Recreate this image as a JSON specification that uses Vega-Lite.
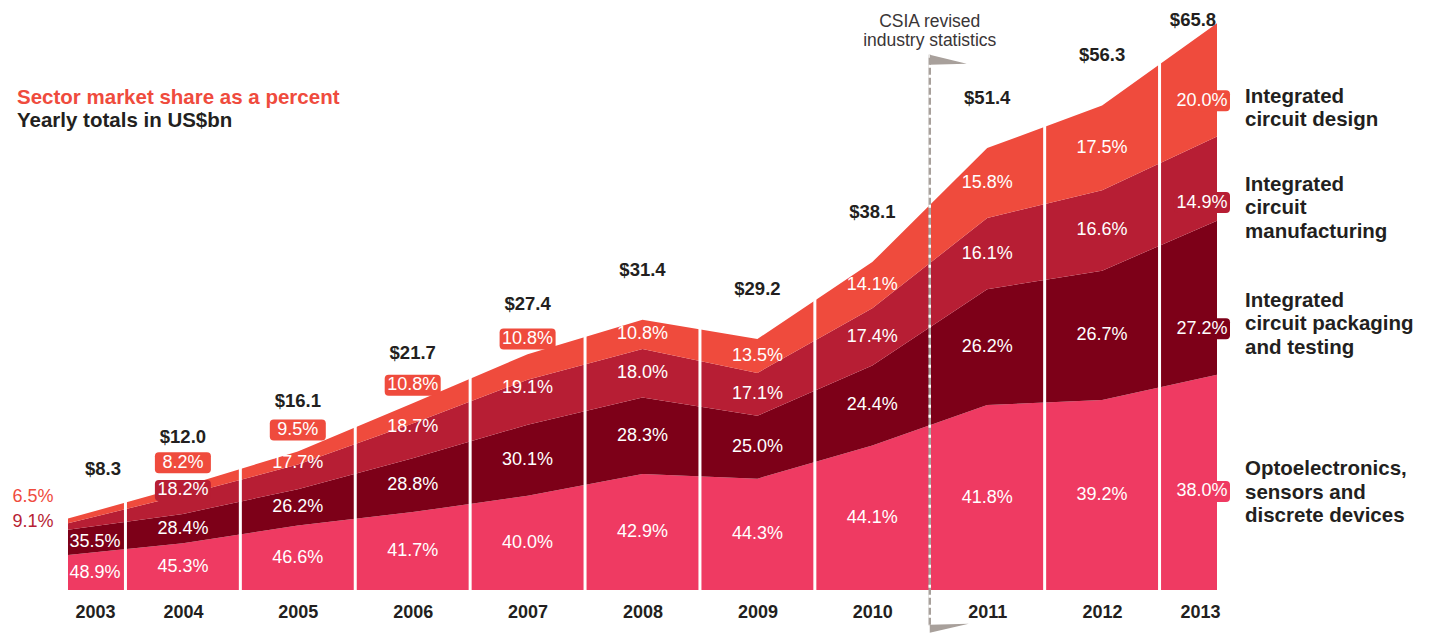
{
  "$schema": "https://vega.github.io/schema/vega-lite/v6.json",
  "width": 1149,
  "height": 568,
  "autosize": {"type": "none"},
  "padding": {"left": 68, "top": 22, "right": 216, "bottom": 43},
  "background": "#ffffff",
  "config": {"view": {"stroke": null}, "font": "Liberation Sans"},
  "title": {
    "text": "Sector market share as a percent",
    "subtitle": "Yearly totals in US$bn",
    "anchor": "start",
    "frame": "group",
    "orient": "top",
    "offset": 0,
    "dx": -51,
    "dy": 121,
    "font": "Liberation Sans",
    "fontSize": 20.5,
    "fontWeight": "bold",
    "color": "#ef4b3d",
    "subtitleFont": "Liberation Sans",
    "subtitleFontSize": 20.5,
    "subtitleFontWeight": "bold",
    "subtitleColor": "#231f20",
    "subtitlePadding": 3
  },
  "datasets": {
    "main": [
      {"year": 2003, "sector": "opto", "rank": 1, "share": 0.489, "value": 4.059},
      {"year": 2003, "sector": "pack", "rank": 2, "share": 0.355, "value": 2.947},
      {"year": 2003, "sector": "manu", "rank": 3, "share": 0.091, "value": 0.755},
      {"year": 2003, "sector": "design", "rank": 4, "share": 0.065, "value": 0.540},
      {"year": 2004, "sector": "opto", "rank": 1, "share": 0.453, "value": 5.436},
      {"year": 2004, "sector": "pack", "rank": 2, "share": 0.284, "value": 3.408},
      {"year": 2004, "sector": "manu", "rank": 3, "share": 0.182, "value": 2.184},
      {"year": 2004, "sector": "design", "rank": 4, "share": 0.082, "value": 0.984},
      {"year": 2005, "sector": "opto", "rank": 1, "share": 0.466, "value": 7.503},
      {"year": 2005, "sector": "pack", "rank": 2, "share": 0.262, "value": 4.218},
      {"year": 2005, "sector": "manu", "rank": 3, "share": 0.177, "value": 2.850},
      {"year": 2005, "sector": "design", "rank": 4, "share": 0.095, "value": 1.530},
      {"year": 2006, "sector": "opto", "rank": 1, "share": 0.417, "value": 9.049},
      {"year": 2006, "sector": "pack", "rank": 2, "share": 0.288, "value": 6.250},
      {"year": 2006, "sector": "manu", "rank": 3, "share": 0.187, "value": 4.058},
      {"year": 2006, "sector": "design", "rank": 4, "share": 0.108, "value": 2.344},
      {"year": 2007, "sector": "opto", "rank": 1, "share": 0.400, "value": 10.960},
      {"year": 2007, "sector": "pack", "rank": 2, "share": 0.301, "value": 8.247},
      {"year": 2007, "sector": "manu", "rank": 3, "share": 0.191, "value": 5.233},
      {"year": 2007, "sector": "design", "rank": 4, "share": 0.108, "value": 2.959},
      {"year": 2008, "sector": "opto", "rank": 1, "share": 0.429, "value": 13.471},
      {"year": 2008, "sector": "pack", "rank": 2, "share": 0.283, "value": 8.886},
      {"year": 2008, "sector": "manu", "rank": 3, "share": 0.180, "value": 5.652},
      {"year": 2008, "sector": "design", "rank": 4, "share": 0.108, "value": 3.391},
      {"year": 2009, "sector": "opto", "rank": 1, "share": 0.443, "value": 12.936},
      {"year": 2009, "sector": "pack", "rank": 2, "share": 0.250, "value": 7.300},
      {"year": 2009, "sector": "manu", "rank": 3, "share": 0.171, "value": 4.993},
      {"year": 2009, "sector": "design", "rank": 4, "share": 0.135, "value": 3.942},
      {"year": 2010, "sector": "opto", "rank": 1, "share": 0.441, "value": 16.802},
      {"year": 2010, "sector": "pack", "rank": 2, "share": 0.244, "value": 9.296},
      {"year": 2010, "sector": "manu", "rank": 3, "share": 0.174, "value": 6.629},
      {"year": 2010, "sector": "design", "rank": 4, "share": 0.141, "value": 5.372},
      {"year": 2011, "sector": "opto", "rank": 1, "share": 0.418, "value": 21.485},
      {"year": 2011, "sector": "pack", "rank": 2, "share": 0.262, "value": 13.467},
      {"year": 2011, "sector": "manu", "rank": 3, "share": 0.161, "value": 8.275},
      {"year": 2011, "sector": "design", "rank": 4, "share": 0.158, "value": 8.121},
      {"year": 2012, "sector": "opto", "rank": 1, "share": 0.392, "value": 22.070},
      {"year": 2012, "sector": "pack", "rank": 2, "share": 0.267, "value": 15.032},
      {"year": 2012, "sector": "manu", "rank": 3, "share": 0.166, "value": 9.346},
      {"year": 2012, "sector": "design", "rank": 4, "share": 0.175, "value": 9.853},
      {"year": 2013, "sector": "opto", "rank": 1, "share": 0.380, "value": 25.004},
      {"year": 2013, "sector": "pack", "rank": 2, "share": 0.272, "value": 17.898},
      {"year": 2013, "sector": "manu", "rank": 3, "share": 0.149, "value": 9.804},
      {"year": 2013, "sector": "design", "rank": 4, "share": 0.200, "value": 13.160}
    ],
    "totals": [
      {"year": 2003, "total": 8.3},
      {"year": 2004, "total": 12.0},
      {"year": 2005, "total": 16.1},
      {"year": 2006, "total": 21.7},
      {"year": 2007, "total": 27.4},
      {"year": 2008, "total": 31.4},
      {"year": 2009, "total": 29.2},
      {"year": 2010, "total": 38.1},
      {"year": 2011, "total": 51.4},
      {"year": 2012, "total": 56.3},
      {"year": 2013, "total": 65.8}
    ],
    "bounds": [
      {"boundary": 2003.5},
      {"boundary": 2004.5},
      {"boundary": 2005.5},
      {"boundary": 2006.5},
      {"boundary": 2007.5},
      {"boundary": 2008.5},
      {"boundary": 2009.5},
      {"boundary": 2011.5},
      {"boundary": 2012.5}
    ],
    "names": [
      {"sector": "design", "name": ["Integrated", "circuit design"]},
      {"sector": "manu", "name": ["Integrated", "circuit", "manufacturing"]},
      {"sector": "pack", "name": ["Integrated", "circuit packaging", "and testing"]},
      {"sector": "opto", "name": ["Optoelectronics,", "sensors and", "discrete devices"]}
    ]
  },
  "data": {"name": "main"},
  "layer": [
    {
      "mark": {"type": "area", "interpolate": "linear"},
      "encoding": {
        "x": {
          "field": "year", "type": "quantitative",
          "scale": {"domain": [2003, 2013], "nice": false, "zero": false},
          "axis": {
            "values": [2003, 2004, 2005, 2006, 2007, 2008, 2009, 2010, 2011, 2012, 2013],
            "format": "d",
            "title": null,
            "domain": false,
            "ticks": false,
            "grid": false,
            "labelFont": "Liberation Sans",
            "labelFontSize": 18,
            "labelFontWeight": "bold",
            "labelColor": "#231f20",
            "labelPadding": 13,
            "labelOverlap": false,
            "labelFlush": false,
            "labelBound": false,
            "labelOffset": {"condition": [{"test": "datum.value == 2003", "value": 27}, {"test": "datum.value == 2013", "value": -17}], "value": 0}
          }
        },
        "y": {"field": "value", "type": "quantitative", "stack": "zero", "scale": {"domain": [0, 66], "nice": false}, "axis": null},
        "color": {
          "field": "sector", "type": "nominal",
          "scale": {"domain": ["opto", "pack", "manu", "design"], "range": ["#ef3a62", "#7d0018", "#b71e34", "#ef4b3d"]},
          "legend": null
        },
        "order": {"field": "rank", "type": "quantitative"}
      }
    },
    {
      "data": {"name": "bounds"},
      "mark": {"type": "rule", "color": "#ffffff", "strokeWidth": 3},
      "encoding": {
        "x": {"field": "boundary", "type": "quantitative"}
      }
    },
    {
      "data": {"values": [{}]},
      "mark": {"type": "rule", "color": "#a8a09b", "strokeWidth": 2.5},
      "encoding": {
        "x": {"datum": 2010.5, "type": "quantitative"},
        "y": {"datum": 62.2, "type": "quantitative", "axis": null},
        "y2": {"datum": -4.1}
      }
    },
    {
      "data": {"values": [{}]},
      "mark": {"type": "rule", "color": "#ffffff", "strokeWidth": 2.5, "strokeDash": [3, 7]},
      "encoding": {
        "x": {"datum": 2010.5, "type": "quantitative"},
        "y": {"datum": 62.2, "type": "quantitative", "axis": null},
        "y2": {"datum": -4.1}
      }
    },
    {
      "mark": {"type": "point", "filled": true, "size": 3136, "strokeWidth": 0},
      "encoding": {
        "x": {"field": "year", "type": "quantitative"},
        "y": {"field": "value", "type": "quantitative", "stack": "zero", "bandPosition": 0.5, "axis": null},
        "color": {"field": "sector", "type": "nominal", "legend": null},
        "order": {"field": "rank", "type": "quantitative"},
        "shape": {
          "condition": [
            {"test": "datum.year == 2013 && datum.sector == 'design'", "value": "M-1.393,0.375L0.321,0.375Q0.464,0.375,0.464,0.518L0.464,0.982Q0.464,1.125,0.321,1.125L-1.393,1.125Q-1.536,1.125,-1.536,0.982L-1.536,0.518Q-1.536,0.375,-1.393,0.375Z"},
            {"test": "datum.year == 2013 && datum.sector == 'manu'", "value": "M-1.393,0.482L0.321,0.482Q0.464,0.482,0.464,0.625L0.464,1.089Q0.464,1.232,0.321,1.232L-1.393,1.232Q-1.536,1.232,-1.536,1.089L-1.536,0.625Q-1.536,0.482,-1.393,0.482Z"},
            {"test": "datum.year == 2013 && datum.sector == 'pack'", "value": "M-1.393,0.732L0.321,0.732Q0.464,0.732,0.464,0.875L0.464,1.339Q0.464,1.482,0.321,1.482L-1.393,1.482Q-1.536,1.482,-1.536,1.339L-1.536,0.875Q-1.536,0.732,-1.393,0.732Z"},
            {"test": "datum.year == 2013 && datum.sector == 'opto'", "value": "M-1.393,-0.054L0.321,-0.054Q0.464,-0.054,0.464,0.089L0.464,0.553Q0.464,0.696,0.321,0.696L-1.393,0.696Q-1.536,0.696,-1.536,0.553L-1.536,0.089Q-1.536,-0.054,-1.393,-0.054Z"},
            {"test": "datum.year >= 2004 && datum.year <= 2007 && datum.sector == 'design'", "value": "M-0.857,-1.375L0.857,-1.375Q1,-1.375,1,-1.232L1,-0.768Q1,-0.625,0.857,-0.625L-0.857,-0.625Q-1,-0.625,-1,-0.768L-1,-1.232Q-1,-1.375,-0.857,-1.375Z"},
            {"test": "datum.year == 2004 && datum.sector == 'manu'", "value": "M-0.857,-0.875L0.857,-0.875Q1,-0.875,1,-0.732L1,-0.268Q1,-0.125,0.857,-0.125L-0.857,-0.125Q-1,-0.125,-1,-0.268L-1,-0.732Q-1,-0.875,-0.857,-0.875Z"}
          ],
          "value": "M-0.857,-0.375L0.857,-0.375Q1,-0.375,1,-0.232L1,0.232Q1,0.375,0.857,0.375L-0.857,0.375Q-1,0.375,-1,0.232L-1,-0.232Q-1,-0.375,-0.857,-0.375Z"
        },
        "opacity": {
          "condition": {"test": "datum.year == 2013 || (datum.year >= 2004 && datum.year <= 2007 && datum.sector == 'design') || (datum.year == 2004 && datum.sector == 'manu')", "value": 1},
          "value": 0
        }
      }
    },
    {
      "mark": {
        "type": "text", "color": "#ffffff", "fontSize": 18, "align": "center", "baseline": "middle",
        "dx": {"expr": "datum.year == 2003 ? 27 : datum.year == 2013 ? -15 : 0"},
        "dy": {"expr": "datum.year == 2013 ? (datum.sector == 'design' ? 21 : datum.sector == 'manu' ? 24 : datum.sector == 'pack' ? 31 : 9) : (datum.year >= 2004 && datum.year <= 2007) ? (datum.sector == 'design' ? -28 : datum.sector == 'manu' ? -14 : 0) : 0"}
      },
      "encoding": {
        "x": {"field": "year", "type": "quantitative"},
        "y": {"field": "value", "type": "quantitative", "stack": "zero", "bandPosition": 0.5, "axis": null},
        "detail": {"field": "sector", "type": "nominal"},
        "order": {"field": "rank", "type": "quantitative"},
        "text": {"field": "share", "type": "quantitative", "format": ".1%"},
        "opacity": {"condition": {"test": "datum.year == 2003 && datum.rank >= 3", "value": 0}, "value": 1}
      }
    },
    {
      "mark": {
        "type": "text", "fontSize": 18, "align": "center", "baseline": "middle", "dx": -35,
        "dy": {"expr": "datum.sector == 'design' ? -24 : -4"}
      },
      "encoding": {
        "x": {"field": "year", "type": "quantitative"},
        "y": {"field": "value", "type": "quantitative", "stack": "zero", "bandPosition": 0.5, "axis": null},
        "color": {"field": "sector", "type": "nominal", "legend": null},
        "order": {"field": "rank", "type": "quantitative"},
        "text": {"field": "share", "type": "quantitative", "format": ".1%"},
        "opacity": {"condition": {"test": "datum.year == 2003 && datum.rank >= 3", "value": 1}, "value": 0}
      }
    },
    {
      "transform": [{"lookup": "sector", "from": {"data": {"name": "names"}, "key": "sector", "fields": ["name"]}}],
      "mark": {
        "type": "text", "align": "left", "baseline": "middle", "dx": 28, "fontSize": 20.5, "fontWeight": "bold", "color": "#231f20", "lineHeight": 23.5,
        "dy": {"expr": "datum.sector == 'design' ? 17 : datum.sector == 'manu' ? 6 : datum.sector == 'pack' ? 3 : -13"}
      },
      "encoding": {
        "x": {"field": "year", "type": "quantitative"},
        "y": {"field": "value", "type": "quantitative", "stack": "zero", "bandPosition": 0.5, "axis": null},
        "detail": {"field": "sector", "type": "nominal"},
        "order": {"field": "rank", "type": "quantitative"},
        "text": {"field": "name", "type": "nominal"},
        "opacity": {"condition": {"test": "datum.year == 2013", "value": 1}, "value": 0}
      }
    },
    {
      "data": {"name": "totals"},
      "mark": {
        "type": "text", "fontSize": 18.5, "fontWeight": "bold", "color": "#231f20", "align": "center", "baseline": "middle",
        "dx": {"expr": "datum.year == 2003 ? 35 : datum.year == 2013 ? -24 : 0"},
        "dy": {"expr": "datum.year == 2013 ? -4 : -50"}
      },
      "encoding": {
        "x": {"field": "year", "type": "quantitative"},
        "y": {"field": "total", "type": "quantitative", "axis": null},
        "text": {"field": "total", "type": "quantitative", "format": "$.1f"}
      }
    },
    {
      "data": {"values": [{}]},
      "mark": {"type": "point", "filled": true, "opacity": 1, "color": "#a8a09b", "size": 5476, "strokeWidth": 0, "shape": "M0,-0.135L1,0.108L0,0.135Z"},
      "encoding": {
        "x": {"datum": 2010.5, "type": "quantitative"},
        "y": {"datum": 61.6, "type": "quantitative", "axis": null}
      }
    },
    {
      "data": {"values": [{}]},
      "mark": {"type": "point", "filled": true, "opacity": 1, "color": "#a8a09b", "size": 5476, "strokeWidth": 0, "shape": "M0,-0.108L1.054,-0.135L0,0.108Z"},
      "encoding": {
        "x": {"datum": 2010.5, "type": "quantitative"},
        "y": {"datum": -4.5, "type": "quantitative", "axis": null}
      }
    },
    {
      "data": {"values": [{}]},
      "mark": {"type": "text", "align": "center", "baseline": "bottom", "fontSize": 17.5, "color": "#3a3536", "lineHeight": 19},
      "encoding": {
        "x": {"datum": 2010.5, "type": "quantitative"},
        "y": {"datum": 65, "type": "quantitative", "axis": null},
        "text": {"value": ["CSIA revised", "industry statistics"]}
      }
    }
  ]
}
